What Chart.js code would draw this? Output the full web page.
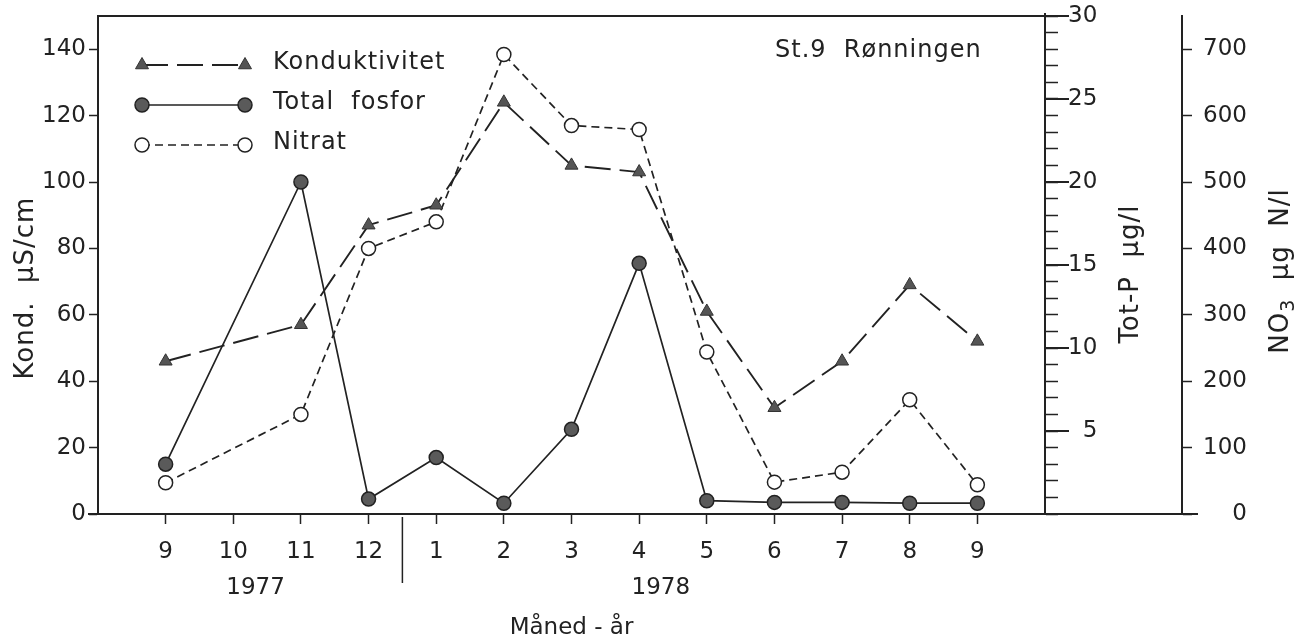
<!DOCTYPE html>
<html>
<head>
<meta charset="utf-8">
<title>St.9 Rønningen</title>
<script src="https://cdn.jsdelivr.net/npm/chart.js@4.4.1/dist/chart.umd.min.js"></script>
<style>
  html, body { margin: 0; padding: 0; background: #fff; }
</style>
</head>
<body>
<canvas id="main" width="1312" height="642"></canvas>
<script>
// months Sep 1977 - Sep 1978, no sample in October
const months = ['9', '10', '11', '12', '1', '2', '3', '4', '5', '6', '7', '8', '9'];
const konduktivitet = [46, null, 57, 87, 93, 124, 105, 103, 61, 32, 46, 69, 52];        // µS/cm
const totalFosfor = [3.0, null, 20.0, 0.9, 3.4, 0.65, 5.1, 15.1, 0.8, 0.7, 0.7, 0.65, 0.65]; // µg/l
const nitrat = [47, null, 150, 400, 440, 692, 585, 579, 244, 48, 63, 172, 44];           // µg N/l
const years = ['1977', '1978'];
const yearAt = [1.33, 7.32];   // x position (in month index units) of the year labels

const INK = '#222';
const FONT = 'DejaVu Sans';
const font = { family: FONT, size: 23 };
const FIG = '\u2007';          // figure space, keeps numbers right-aligned

const toPoints = (values) => values.map((v, i) => ({ x: i, y: v }));
const noPad = s => { s.paddingTop = 0; s.paddingBottom = 0; };

// draws a run of [text, size, baselineShift] pieces centred on the origin
function drawPieces(ctx, pieces) {
  let total = 0;
  pieces.forEach(([t, size]) => { ctx.font = `${size}px ${FONT}`; total += ctx.measureText(t).width; });
  let px = -total / 2;
  ctx.textAlign = 'left';
  pieces.forEach(([t, size, shift]) => {
    ctx.font = `${size}px ${FONT}`;
    ctx.fillText(t, px, shift);
    px += ctx.measureText(t).width;
  });
}

const decorations = {
  id: 'decorations',
  afterDraw(chart) {
    const { ctx, chartArea: a, scales } = chart;
    const x = scales.x, yP = scales.yP, yN = scales.yN;
    ctx.save();
    ctx.strokeStyle = INK;
    ctx.lineWidth = 2;
    ctx.setLineDash([]);
    // frame top and base line running out under the NO3 axis
    ctx.beginPath();
    ctx.moveTo(a.left, a.top); ctx.lineTo(a.right, a.top);
    ctx.moveTo(a.left - 10, a.bottom); ctx.lineTo(yN.left + 16, a.bottom);
    ctx.moveTo(a.right, a.top); ctx.lineTo(a.right, a.top - 3);
    ctx.stroke();
    // long ticks every 5 on Tot-P axis
    ctx.beginPath();
    yP.ticks.forEach(t => {
      if (t.value % 5 === 0 && t.value > 0) {
        const py = yP.getPixelForValue(t.value);
        ctx.moveTo(yP.left, py); ctx.lineTo(yP.left + 24, py);
      }
    });
    ctx.stroke();
    // year separator
    const sx = x.getPixelForValue(3.5);
    ctx.lineWidth = 1.5;
    ctx.beginPath();
    ctx.moveTo(sx, a.bottom + 3); ctx.lineTo(sx, a.bottom + 69);
    ctx.stroke();

    ctx.fillStyle = INK;
    ctx.font = `23px ${FONT}`;
    ctx.textAlign = 'center';
    ctx.textBaseline = 'middle';
    years.forEach((yr, i) => ctx.fillText(yr, x.getPixelForValue(yearAt[i]), a.bottom + 74));

    // axis titles, all read bottom to top
    ctx.letterSpacing = '1px';
    [
      [a.left - 72, a.top + 272, [['Kond.  µS/cm', 26, 0]]],
      [yP.left + 86, a.top + 258, [['Tot-P  µg/l', 26, 0]]],
      [yN.left + 99, a.top + 255, [['NO', 26, 0], ['3', 19, 8], ['  µg  N/l', 26, 0]]]
    ].forEach(([tx, ty, pieces]) => {
      ctx.save();
      ctx.translate(tx, ty);
      ctx.rotate(-Math.PI / 2);
      drawPieces(ctx, pieces);
      ctx.restore();
    });

    // station note
    ctx.font = `24px ${FONT}`;
    ctx.textAlign = 'left';
    ctx.fillText('St.9  Rønningen', a.left + 677, a.top + 35);

    // legend: marker - line - marker, then label
    chart.data.datasets.forEach((ds, i) => {
      const ly = a.top + 49 + i * 40;
      const x0 = a.left + 44, x1 = a.left + 147;
      ctx.strokeStyle = INK;
      ctx.lineWidth = ds.borderWidth;
      ctx.setLineDash(ds.borderDash);
      ctx.beginPath(); ctx.moveTo(x0, ly); ctx.lineTo(x1, ly); ctx.stroke();
      ctx.setLineDash([]);
      ctx.fillStyle = ds.pointBackgroundColor;
      ctx.strokeStyle = ds.pointBorderColor;
      ctx.lineWidth = ds.pointBorderWidth;
      const opts = { pointStyle: ds.pointStyle, radius: ds.pointRadius, rotation: 0, borderWidth: ds.pointBorderWidth };
      Chart.helpers.drawPoint(ctx, opts, x0, ly);
      Chart.helpers.drawPoint(ctx, opts, x1, ly);
      ctx.fillStyle = INK;
      ctx.fillText(ds.label, a.left + 175, ly - 2);
    });
    ctx.restore();
  }
};

new Chart(document.getElementById('main'), {
  type: 'line',
  data: {
    datasets: [
      {
        label: 'Konduktivitet', data: toPoints(konduktivitet), yAxisID: 'y',
        borderColor: INK, borderWidth: 1.9, borderDash: [26, 9],
        pointStyle: 'triangle', pointRadius: 7.5,
        pointBackgroundColor: '#555', pointBorderColor: '#333', pointBorderWidth: 1,
        spanGaps: true, tension: 0
      },
      {
        label: 'Total  fosfor', data: toPoints(totalFosfor), yAxisID: 'yP',
        borderColor: INK, borderWidth: 1.7, borderDash: [],
        pointStyle: 'circle', pointRadius: 7,
        pointBackgroundColor: '#5a5a5a', pointBorderColor: '#222', pointBorderWidth: 1.5,
        spanGaps: true, tension: 0
      },
      {
        label: 'Nitrat', data: toPoints(nitrat), yAxisID: 'yN',
        borderColor: INK, borderWidth: 1.7, borderDash: [8, 5],
        pointStyle: 'circle', pointRadius: 7,
        pointBackgroundColor: '#fff', pointBorderColor: '#222', pointBorderWidth: 1.5,
        spanGaps: true, tension: 0
      }
    ]
  },
  options: {
    responsive: false,
    animation: false,
    layout: { padding: { top: 16, left: 0, right: 0, bottom: 0 } },
    plugins: { legend: { display: false }, tooltip: { enabled: false } },
    scales: {
      x: {
        type: 'linear', min: -1, max: 13,
        afterBuildTicks: s => { s.ticks = months.map((_, i) => ({ value: i })); },
        afterFit: s => { s.height = 128; s.paddingLeft = 0; s.paddingRight = 0; },
        ticks: { callback: v => months[v] ?? '', font, color: INK, padding: 14, autoSkip: false, maxRotation: 0 },
        grid: { drawOnChartArea: false, tickLength: 10, tickColor: INK, tickWidth: 1.5 },
        border: { color: INK, width: 2 },
        title: { display: true, text: 'Måned - år', font, color: INK, padding: { top: 0, bottom: 0 } }
      },
      y: {
        position: 'left', min: 0, max: 150,
        afterBuildTicks: s => { s.ticks = s.ticks.filter(t => t.value <= 140); },
        afterFit: s => { s.width = 98; noPad(s); },
        ticks: { stepSize: 20, font, color: INK, padding: 3 },
        grid: { drawOnChartArea: false, tickLength: 9, tickColor: INK, tickWidth: 1.5 },
        border: { color: INK, width: 2 }
      },
      yP: {
        position: 'right', weight: 0, min: 0, max: 30,
        afterBuildTicks: s => { s.ticks = Array.from({ length: 31 }, (_, v) => ({ value: v })); },
        afterFit: s => { s.width = 137; noPad(s); },
        ticks: {
          callback: v => (v % 5 === 0 && v > 0) ? String(v).padStart(2, FIG) : '',
          font, color: INK, padding: 10, autoSkip: false
        },
        grid: { drawOnChartArea: false, tickLength: 13, tickColor: INK, tickWidth: 1.5 },
        border: { color: INK, width: 2 }
      },
      yN: {
        position: 'right', weight: 1, min: 0, max: 750,
        afterBuildTicks: s => { s.ticks = s.ticks.filter(t => t.value <= 700); },
        afterFit: s => { s.width = 130; noPad(s); },
        ticks: { stepSize: 100, callback: v => String(v).padStart(3, FIG), font, color: INK, padding: 11 },
        grid: { drawOnChartArea: false, tickLength: 10, tickColor: INK, tickWidth: 1.5 },
        border: { color: INK, width: 2 }
      }
    }
  },
  plugins: [decorations]
});
</script>
</body>
</html>
